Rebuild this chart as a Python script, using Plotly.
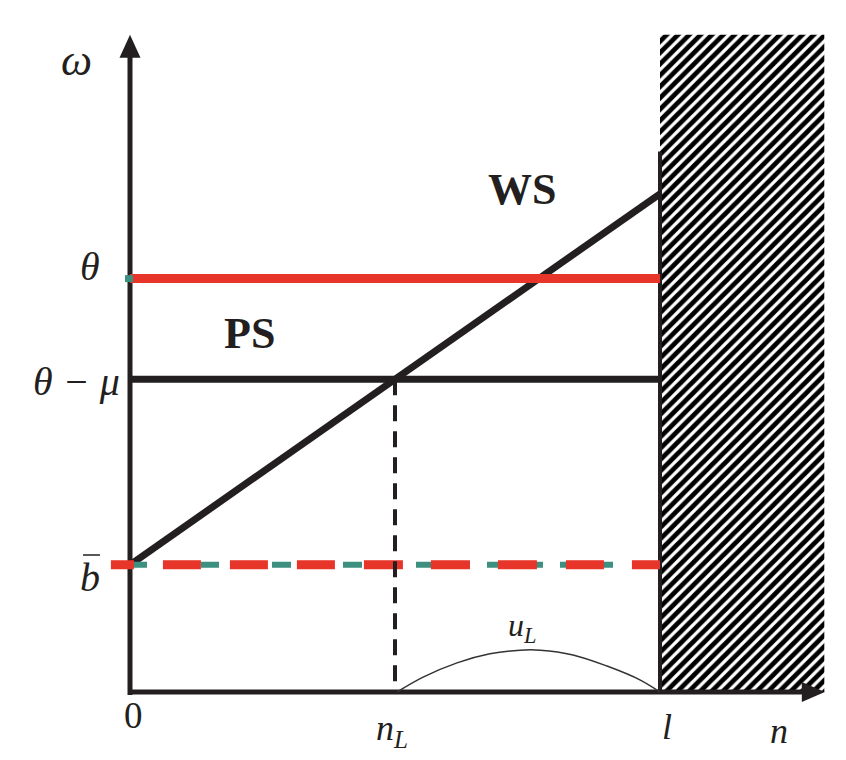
import plotly.graph_objects as go

# ---------------- data (n-axis: 0 .. l = 1 ; same unit scale on omega axis) ----------------
n_L = 0.50
l_val = 1.0
b_bar = 0.24
theta_minus_mu = 0.59
theta = 0.78
ws_at_l = 0.94
wall_top = 1.02
hatch_right = 1.31
hatch_top = 1.24
axis_x_end = 1.311
axis_y_end = 1.24
red_dash_start = -0.036

ul_x = [0.504, 0.553, 0.617, 0.679, 0.736, 0.774, 0.836, 0.900, 0.962, 1.0]
ul_y = [0.0, 0.028, 0.055, 0.072, 0.079, 0.079, 0.070, 0.049, 0.023, 0.0]

# ---------------- styling ----------------
PX = 530.0  # pixels per unit
W, H = 846, 760
X0_PX, Y0_PX = 130, 692
x_range = [-X0_PX / PX, (W - X0_PX) / PX]
y_range = [-(H - Y0_PX) / PX, Y0_PX / PX]

INK = "#231F20"
RED = "#E8352A"
TEAL = "#3D8F80"
SERIF = "Liberation Serif"

def u(px):
    return px / PX

fig = go.Figure()

# hatched wall region
fig.add_trace(go.Scatter(
    x=[l_val, hatch_right, hatch_right, l_val, l_val],
    y=[0, 0, hatch_top, hatch_top, 0],
    mode="lines", fill="toself", line=dict(width=0, color="rgba(0,0,0,0)"),
    fillcolor="white",
    fillpattern=dict(shape="/", size=8, solidity=0.6, fgcolor="black", bgcolor="white",
                     fillmode="replace"),
    hoverinfo="skip"))

# axes
fig.add_trace(go.Scatter(x=[-u(2), axis_x_end - u(20)], y=[0, 0], mode="lines",
                         line=dict(color=INK, width=5), hoverinfo="skip"))
fig.add_trace(go.Scatter(x=[0, 0], y=[-u(3), axis_y_end - u(20)], mode="lines",
                         line=dict(color=INK, width=5), hoverinfo="skip"))
# arrow heads
fig.add_trace(go.Scatter(
    x=[axis_x_end, axis_x_end - u(23), axis_x_end - u(23), axis_x_end],
    y=[0, u(10), -u(10), 0], mode="lines", fill="toself", fillcolor=INK,
    line=dict(width=0, color=INK), hoverinfo="skip"))
fig.add_trace(go.Scatter(
    x=[0, u(10.5), -u(10.5), 0],
    y=[axis_y_end, axis_y_end - u(23), axis_y_end - u(23), axis_y_end], mode="lines",
    fill="toself", fillcolor=INK, line=dict(width=0, color=INK), hoverinfo="skip"))

# wall line at l
fig.add_trace(go.Scatter(x=[l_val, l_val], y=[0, wall_top], mode="lines",
                         line=dict(color=INK, width=4), hoverinfo="skip"))

# theta - mu (PS) line
fig.add_trace(go.Scatter(x=[0, l_val], y=[theta_minus_mu, theta_minus_mu], mode="lines",
                         line=dict(color=INK, width=7), hoverinfo="skip"))
# WS line
fig.add_trace(go.Scatter(x=[0, l_val], y=[b_bar, ws_at_l], mode="lines",
                         line=dict(color=INK, width=7), hoverinfo="skip"))
# theta red line
fig.add_trace(go.Scatter(x=[0, l_val], y=[theta, theta], mode="lines",
                         line=dict(color=RED, width=9), hoverinfo="skip"))
fig.add_trace(go.Scatter(x=[-u(5), u(3)], y=[theta, theta], mode="lines",
                         line=dict(color=TEAL, width=7), hoverinfo="skip"))

# b-bar dashed lines (teal under red)
teal_dash = "17px,54px,18px,53px,19px,52px,19px,54px,54px,17px,56px,17px,53px,19px,28px,60px"
red_dash = ("23px,29px,38px,29px,38px,29px,38px,29px,39px,28px,39px,28px,39px,29px,"
            "38px,28px,28px,60px")
fig.add_trace(go.Scatter(x=[0, l_val], y=[b_bar, b_bar], mode="lines",
                         line=dict(color=TEAL, width=6, dash=teal_dash), hoverinfo="skip"))
fig.add_trace(go.Scatter(x=[red_dash_start, l_val], y=[b_bar, b_bar], mode="lines",
                         line=dict(color=RED, width=9, dash=red_dash), hoverinfo="skip"))

# n_L dashed drop line
fig.add_trace(go.Scatter(x=[n_L, n_L], y=[theta_minus_mu, 0], mode="lines",
                         line=dict(color=INK, width=4, dash="16px,10px"), hoverinfo="skip"))

# u_L curve
fig.add_trace(go.Scatter(x=ul_x, y=ul_y, mode="lines", line=dict(color="#333333", width=1.5,
                         shape="spline"), hoverinfo="skip"))

def px_x(x_px):
    return (x_px - X0_PX) / PX

def px_y(y_px):
    return (Y0_PX - y_px) / PX

def label(x_px, y_px, text, size, bold=False, italic=True):
    t = text
    if bold:
        t = "<b>" + t + "</b>"
    if italic:
        t = "<i>" + t + "</i>"
    fig.add_annotation(x=px_x(x_px), y=px_y(y_px), text=t, showarrow=False,
                       xanchor="center", yanchor="middle",
                       font=dict(family=SERIF, size=size, color=INK))

label(76, 60, "ω", 44)
label(90, 266, "θ", 40)
label(76, 381, "θ − μ", 40)
label(90, 577, "b", 40)
# bar over b
fig.add_shape(type="line", x0=px_x(83), x1=px_x(100), y0=px_y(555), y1=px_y(555),
              line=dict(color=INK, width=1.5))
label(133, 715, "0", 37, italic=False)
label(392, 730, "n<sub>L</sub>", 36)
label(667, 727, "l", 36)
label(779, 731, "n", 36)
label(522, 627, "u<sub>L</sub>", 32)
label(522, 189, "WS", 44, bold=True, italic=False)
label(249, 333, "PS", 44, bold=True, italic=False)

fig.update_layout(
    width=W, height=H, margin=dict(l=0, r=0, t=0, b=0),
    paper_bgcolor="white", plot_bgcolor="white", showlegend=False,
    xaxis=dict(range=x_range, visible=False, fixedrange=True),
    yaxis=dict(range=y_range, visible=False, fixedrange=True),
)

fig.write_html("out.html")
